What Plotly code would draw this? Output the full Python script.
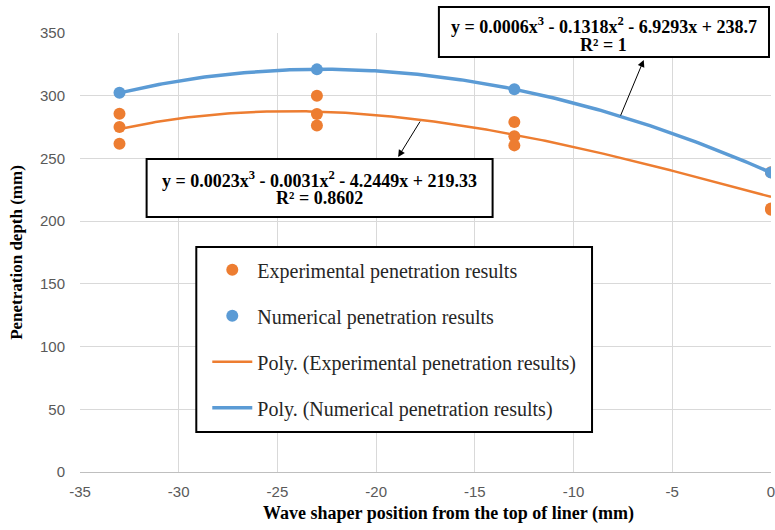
import numpy as np
import plotly.graph_objects as go

# ---- data ----
exp_x = [-33, -33, -33, -23, -23, -23, -13, -13, -13, 0, 0, 0]
exp_y = [285.6, 275.0, 261.7, 300.0, 285.4, 276.3, 279.0, 267.6, 260.4, 209.0, 210.0, 239.0]
num_x = [-33, -23, -13, 0]
num_y = [302.3, 321.0, 305.2, 238.7]
exp_coef = [0.0023, -0.0031, -4.2449, 219.33]
num_coef = [0.0006, -0.1318, -6.9293, 238.7]
x_ticks = [-35, -30, -25, -20, -15, -10, -5, 0]
x_tick_text = ["-35", "-30", "-25", "-20", "-15", "-10", "-5", "0"]
y_ticks = [0, 50, 100, 150, 200, 250, 300, 350]

ORANGE = "#ED7D31"
BLUE = "#5B9BD5"
SERIF = "Liberation Serif, Times New Roman, serif"
SANS = "Liberation Sans, Arial, sans-serif"

xf = np.linspace(min(num_x), max(num_x), 200)
exp_fit = np.polyval(exp_coef, xf)
num_fit = np.polyval(num_coef, xf)

fig = go.Figure()
fig.add_trace(go.Scatter(x=exp_x, y=exp_y, mode="markers", name="Experimental penetration results",
                         marker=dict(color=ORANGE, size=12), legendgroup="a"))
fig.add_trace(go.Scatter(x=num_x, y=num_y, mode="markers", name="Numerical penetration results",
                         marker=dict(color=BLUE, size=12), legendgroup="b"))
fig.add_trace(go.Scatter(x=xf, y=exp_fit, mode="lines", name="Poly. (Experimental penetration results)",
                         line=dict(color=ORANGE, width=2.5), legendgroup="c"))
fig.add_trace(go.Scatter(x=xf, y=num_fit, mode="lines", name="Poly. (Numerical penetration results)",
                         line=dict(color=BLUE, width=3.5), legendgroup="d"))

box_line = dict(color="black", width=2)
# equation boxes and legend box
fig.add_shape(type="rect", xref="paper", yref="paper", x0=0.5194, x1=0.9971, y0=0.9453, y1=1.0592,
              line=box_line, fillcolor="white", layer="above")
fig.add_shape(type="rect", xref="paper", yref="paper", x0=0.0964, x1=0.5971, y0=0.5809, y1=0.7130,
              line=box_line, fillcolor="white", layer="above")
fig.add_shape(type="rect", xref="paper", yref="paper", x0=0.1683, x1=0.7410, y0=0.0911, y1=0.5125,
              line=box_line, fillcolor="white", layer="above")

eq_font = dict(family=SERIF, size=18, color="black")
for x, y, t in [
    (0.7583, 1.0182, "<b>y = 0.0006x<sup>3</sup> - 0.1318x<sup>2</sup> - 6.9293x + 238.7</b>"),
    (0.7583, 0.9727, "<b>R² = 1</b>"),
    (0.3468, 0.6674, "<b>y = 0.0023x<sup>3</sup> - 0.0031x<sup>2</sup> - 4.2449x + 219.33</b>"),
    (0.3468, 0.6241, "<b>R² = 0.8602</b>"),
]:
    fig.add_annotation(xref="paper", yref="paper", x=x, y=y, xanchor="center", yanchor="middle",
                       text=t, showarrow=False, font=eq_font)

# arrows from curves to boxes
fig.add_annotation(x=-6.445, y=328.5, ax=-7.65, ay=283.0, axref="x", ayref="y", xref="x", yref="y",
                   text="", showarrow=True, arrowhead=2, arrowsize=1.4, arrowwidth=1, arrowcolor="black")
fig.add_annotation(x=-18.885, y=251.1, ax=-17.73, ay=280.6, axref="x", ayref="y", xref="x", yref="y",
                   text="", showarrow=True, arrowhead=2, arrowsize=1.4, arrowwidth=1, arrowcolor="black")

# x axis title
fig.add_annotation(xref="paper", yref="paper", x=0.534, y=-41 / 439, xanchor="center", yanchor="middle",
                   text="<b>Wave shaper position from the top of liner (mm)</b>", showarrow=False,
                   font=dict(family=SERIF, size=18, color="black"))

fig.update_layout(
    width=775, height=530,
    margin=dict(l=80, r=0, t=33, b=58),
    plot_bgcolor="white", paper_bgcolor="white",
    legend=dict(x=0.1842, y=0.505, xanchor="left", yanchor="top",
                bgcolor="rgba(0,0,0,0)", borderwidth=0,
                font=dict(family=SERIF, size=20, color="#262626"),
                tracegroupgap=17, itemwidth=40),
    xaxis=dict(range=[-35, 0], tickvals=x_ticks, ticktext=x_tick_text, showgrid=True,
               gridcolor="#D9D9D9", gridwidth=1,
               showline=True, linecolor="#BFBFBF", linewidth=1, zeroline=False,
               tickfont=dict(family=SANS, size=15, color="#595959"), ticklabelstandoff=6,
               ticklabeloverflow="allow"),
    yaxis=dict(range=[0, 350], tickvals=y_ticks, showgrid=True, gridcolor="#D9D9D9", gridwidth=1,
               showline=False, zeroline=False,
               tickfont=dict(family=SANS, size=15, color="#595959"), ticklabelstandoff=14,
               title=dict(text="<b>Penetration depth (mm)</b>",
                          font=dict(family=SERIF, size=17, color="black"), standoff=13)),
)

fig.write_html("out.html", config={"displayModeBar": False},
               post_script="document.body.style.margin='0';document.body.style.overflow='hidden';")
